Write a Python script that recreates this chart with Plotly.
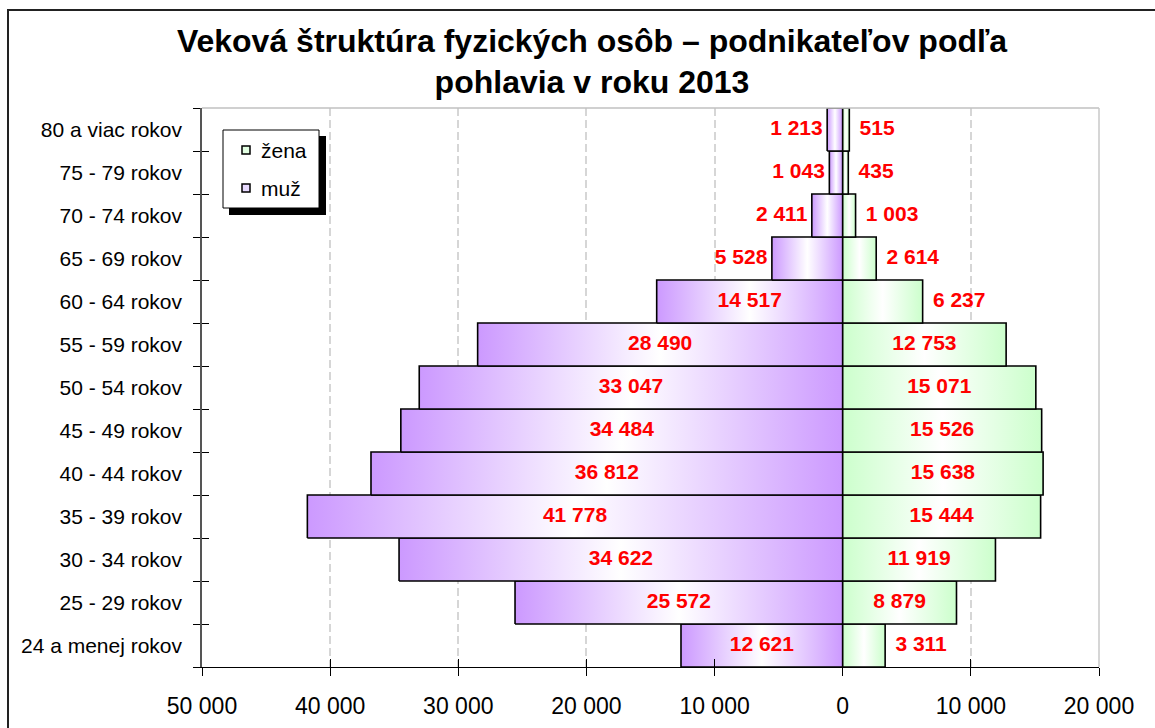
import plotly.graph_objects as go

# Age groups from youngest (bottom) to oldest (top)
age_groups = [
    "24 a menej rokov", "25 - 29 rokov", "30 - 34 rokov", "35 - 39 rokov",
    "40 - 44 rokov", "45 - 49 rokov", "50 - 54 rokov", "55 - 59 rokov",
    "60 - 64 rokov", "65 - 69 rokov", "70 - 74 rokov", "75 - 79 rokov",
    "80 a viac rokov",
]
men = [12621, 25572, 34622, 41778, 36812, 34484, 33047, 28490, 14517, 5528, 2411, 1043, 1213]
women = [3311, 8879, 11919, 15444, 15638, 15526, 15071, 12753, 6237, 2614, 1003, 435, 515]

x_tick_values = [-50000, -40000, -30000, -20000, -10000, 0, 10000, 20000]
x_tick_labels = ["50 000", "40 000", "30 000", "20 000", "10 000", "0", "10 000", "20 000"]

legend_labels = ["žena", "muž"]

# Smallest value whose label is written inside its bar
LABEL_INSIDE_MIN = 8000
# Extra space between a bar end and a label written outside it (axis units)
GAP_MEN = 350
GAP_WOMEN = 800

MEN_COLOR = "#CC99FF"
WOMEN_COLOR = "#CCFFCC"
LABEL_COLOR = "#FF0000"
FONT = "Arial, Liberation Sans, sans-serif"

W, H = 1155, 728
ML, MR, MT, MB = 202, 56, 108, 61
PW, PH = W - ML - MR, H - MT - MB


def px_x(xp):
    return (xp - ML) / PW


def px_y(yp):
    return (H - MB - yp) / PH


def fmt(v):
    return f"{v:,}".replace(",", " ")


fig = go.Figure()

# One filled polygon per bar so each gets its own horizontal gradient
def add_bar(i, x0, x1, color):
    fig.add_trace(go.Scatter(
        x=[x0, x1, x1, x0, x0],
        y=[i - 0.5, i - 0.5, i + 0.5, i + 0.5, i - 0.5],
        mode="lines",
        fill="toself",
        fillgradient=dict(type="horizontal",
                          colorscale=[[0, color], [0.5, "#FFFFFF"], [1, color]]),
        line=dict(color="black", width=1.6),
        hoverinfo="skip",
        showlegend=False,
    ))


for i, v in enumerate(men):
    add_bar(i, -v, 0, MEN_COLOR)
for i, v in enumerate(women):
    add_bar(i, 0, v, WOMEN_COLOR)

# Value labels: centred when the bar is wide enough, otherwise beyond its end
men_x = [-v / 2 if v >= LABEL_INSIDE_MIN else -v - GAP_MEN for v in men]
men_pos = ["middle center" if v >= LABEL_INSIDE_MIN else "middle left" for v in men]
women_x = [v / 2 if v >= LABEL_INSIDE_MIN else v + GAP_WOMEN for v in women]
women_pos = ["middle center" if v >= LABEL_INSIDE_MIN else "middle right" for v in women]
ys = list(range(len(age_groups)))

label_font = dict(family=FONT, size=21, color=LABEL_COLOR, weight="bold")
fig.add_trace(go.Scatter(
    x=men_x, y=ys, mode="text", text=[fmt(v) for v in men],
    textposition=men_pos, textfont=label_font, cliponaxis=False,
    xaxis="x2", yaxis="y2", hoverinfo="skip", showlegend=False,
))
fig.add_trace(go.Scatter(
    x=women_x, y=ys, mode="text", text=[fmt(v) for v in women],
    textposition=women_pos, textfont=label_font, cliponaxis=False,
    xaxis="x2", yaxis="y2", hoverinfo="skip", showlegend=False,
))

x_range = [-50000, 20000]
y_range = [-0.5, len(age_groups) - 0.5]
boundaries = [i - 0.5 for i in range(len(age_groups) + 1)]

fig.update_layout(
    width=W, height=H,
    margin=dict(l=ML, r=MR, t=MT, b=MB),
    paper_bgcolor="white", plot_bgcolor="white",
    showlegend=False,
    font=dict(family=FONT, color="black"),
    title=dict(
        text="Veková štruktúra fyzických osôb – podnikateľov podľa<br>pohlavia v roku 2013",
        font=dict(family=FONT, size=32, color="black", weight="bold"),
        x=592 / W, xref="container", xanchor="center",
        y=0.929, yref="container", yanchor="top", automargin=False,
    ),
    xaxis=dict(
        range=x_range, tickmode="array", tickvals=x_tick_values, ticktext=x_tick_labels,
        ticks="outside", ticklen=8, tickcolor="black", tickwidth=1,
        showline=True, linecolor="black", linewidth=1,
        showgrid=True, gridcolor="#D6D6D6", griddash="8px,4px", gridwidth=1.5,
        zeroline=False, tickfont=dict(size=23, family=FONT),
        ticklabelstandoff=10, automargin=False,
    ),
    yaxis=dict(
        range=y_range, tickmode="array", tickvals=ys, ticktext=age_groups,
        ticks="", showline=True, linecolor="#555555", linewidth=1.5,
        minor=dict(tickmode="array", tickvals=boundaries, ticks="outside",
                   ticklen=7, tickcolor="black", showgrid=False),
        showgrid=False, zeroline=False, tickfont=dict(size=21, family=FONT),
        ticklabelstandoff=14, automargin=False,
    ),
    xaxis2=dict(
        overlaying="x", anchor="y2", range=x_range, tickmode="array",
        tickvals=x_tick_values, ticks="inside", ticklen=8, tickcolor="black",
        showticklabels=False, showgrid=False, zeroline=False, showline=False,
        automargin=False,
    ),
    yaxis2=dict(
        overlaying="y", anchor="x2", side="left", range=y_range, tickmode="array",
        tickvals=boundaries, ticks="inside", ticklen=7, tickcolor="black",
        showticklabels=False, showgrid=False, zeroline=False, showline=False,
        automargin=False,
    ),
)

shapes = [
    # plot area border (top and right)
    dict(type="line", xref="paper", yref="paper", x0=0, x1=1, y0=1, y1=1,
         line=dict(color="#C0C0C0", width=1.5)),
    dict(type="line", xref="paper", yref="paper", x0=1, x1=1, y0=0, y1=1,
         line=dict(color="#C8C8C8", width=1.5)),
    # chart frame
    dict(type="rect", xref="paper", yref="paper",
         x0=px_x(8), x1=px_x(W + 10), y0=px_y(10), y1=px_y(H + 10),
         line=dict(color="#222222", width=2), fillcolor="rgba(0,0,0,0)", layer="above"),
    # legend shadow and box
    dict(type="rect", xref="paper", yref="paper",
         x0=px_x(229), x1=px_x(326), y0=px_y(136), y1=px_y(215),
         line=dict(width=0), fillcolor="black", layer="above"),
    dict(type="rect", xref="paper", yref="paper",
         x0=px_x(223), x1=px_x(319), y0=px_y(130), y1=px_y(208),
         line=dict(color="black", width=1), fillcolor="white", layer="above"),
    # legend swatches
    dict(type="rect", xref="paper", yref="paper",
         x0=px_x(242), x1=px_x(250), y0=px_y(146), y1=px_y(154),
         line=dict(color="black", width=1.5), fillcolor="#E2FFE2", layer="above"),
    dict(type="rect", xref="paper", yref="paper",
         x0=px_x(242), x1=px_x(250), y0=px_y(184), y1=px_y(192),
         line=dict(color="black", width=1.5), fillcolor="#E8DAFF", layer="above"),
]
fig.update_layout(shapes=shapes)

for label, yp in zip(legend_labels, [150, 188]):
    fig.add_annotation(
        text=label, xref="paper", yref="paper", x=px_x(259), y=px_y(yp),
        xanchor="left", yanchor="middle", showarrow=False,
        font=dict(family=FONT, size=21, color="black"),
    )

fig.write_html("out.html")
